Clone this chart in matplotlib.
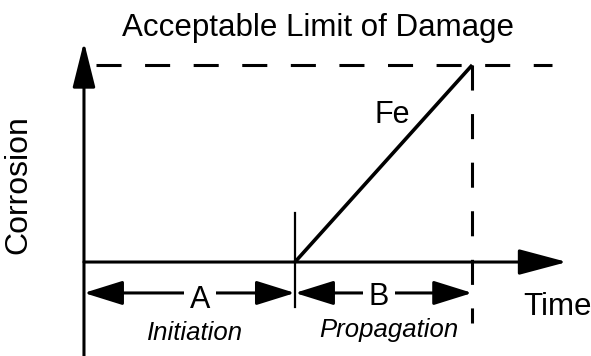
import matplotlib
matplotlib.use("Agg")
import matplotlib.pyplot as plt
from matplotlib.patches import ArrowStyle

plt.rcParams["font.family"] = "Liberation Sans"

# schematic values (time in units of initiation time, corrosion in units of limit)
t_init = 1.0
t_limit = 1.84
c_limit = 1.0
fe_time = [t_init, t_limit]
fe_corr = [0.0, c_limit]

fig = plt.figure(figsize=(5.91, 3.56), dpi=100)
ax = fig.add_axes([0, 0, 1, 1])
ax.set_xlim(-0.398, 2.403)
ax.set_ylim(-0.477, 1.330)
ax.axis("off")

lw = 2.2
k = "black"

def arrow(x0, y0, x1, y1, hl, hw, style="-|>"):
    st = ArrowStyle(style, head_length=hl, head_width=hw)
    ax.annotate("", xy=(x1, y1), xytext=(x0, y0),
                arrowprops=dict(arrowstyle=st, mutation_scale=1, color=k,
                                lw=lw, shrinkA=0, shrinkB=0))

# axes
arrow(0, -0.5, 0, 1.117, 28, 7)
arrow(0, 0, 2.289, 0, 30, 8)

# limit of damage (dashed)
ax.plot([0.057, 2.218], [c_limit, c_limit], color=k, lw=lw, dashes=(8.2, 7.7))
ax.plot([t_limit, t_limit], [c_limit, -0.31], color=k, lw=lw, dashes=(8.2, 7.7))

# Fe corrosion line
ax.plot(fe_time, fe_corr, color=k, lw=2.6, solid_capstyle="butt")

# tick at end of initiation
ax.plot([t_init, t_init], [0.249, -0.228], color=k, lw=1.6)

# dimension arrows
y_dim = -0.157
arrow(0, y_dim, t_init, y_dim, 24, 7.5, "<|-|>")
arrow(t_init, y_dim, t_limit, y_dim, 24, 7.5, "<|-|>")

box = dict(facecolor="white", edgecolor="none", pad=4)
ax.text(0.55, -0.234, "A", fontsize=22, ha="center", va="baseline", bbox=box)
ax.text(1.398, -0.218, "B", fontsize=22, ha="center", va="baseline", bbox=box)
ax.text(0.526, -0.396, "Initiation", fontsize=18.5, style="italic", ha="center", va="baseline")
ax.text(1.445, -0.381, "Propagation", fontsize=18.5, style="italic", ha="center", va="baseline")

ax.text(1.109, 1.147, "Acceptable Limit of Damage", fontsize=22.5, ha="center", va="baseline")
ax.text(-0.242, 0.391, "Corrosion", fontsize=23, rotation=90, ha="right", va="center")
ax.text(1.379, 0.706, "Fe", fontsize=22, ha="left", va="baseline")
ax.text(2.081, -0.269, "Time", fontsize=22.5, ha="left", va="baseline")

fig.savefig("out.png", dpi=100)
